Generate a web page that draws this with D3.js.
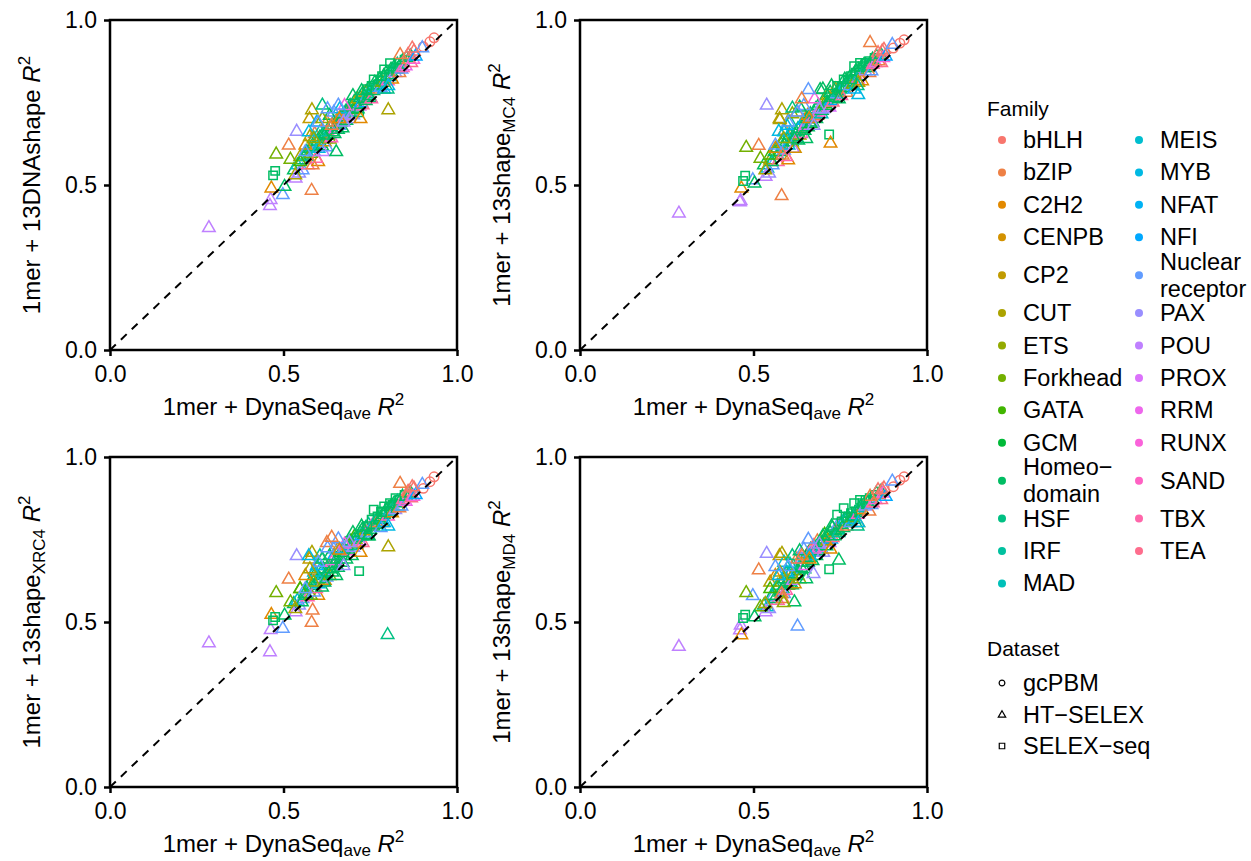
<!DOCTYPE html>
<html>
<head>
<meta charset="utf-8">
<script src="https://cdn.jsdelivr.net/npm/d3@7"></script>
<style>
  body { margin: 0; background: #fff; }
  svg { font-family: "Liberation Sans", Arial, sans-serif; }
</style>
</head>
<body>
<script>
// legend categories
let families = ['bHLH', 'bZIP', 'C2H2', 'CENPB', 'CP2', 'CUT', 'ETS', 'Forkhead', 'GATA', 'GCM',
                'Homeo\u2212\ndomain', 'HSF', 'IRF', 'MAD', 'MEIS', 'MYB', 'NFAT', 'NFI', 'Nuclear\nreceptor', 'PAX',
                'POU', 'PROX', 'RRM', 'RUNX', 'SAND', 'TBX', 'TEA'];
let datasets = ['gcPBM', 'HT\u2212SELEX', 'SELEX\u2212seq'];
let panelTitles = [['13DNAshape', ''], ['13shape', 'MC4'], ['13shape', 'XRC4'], ['13shape', 'MD4']];
let tickValues = [0, 0.5, 1];

// one entry per TF experiment (index into families / datasets)
let pointFamily = [
  10, 14, 19, 20, 18, 5, 25, 1, 2,
  10, 10, 11, 12, 10, 7, 10, 18, 10, 25,
  10, 15, 10, 14, 10, 20, 10, 3, 10, 18,
  11, 10, 6, 10, 24, 10, 16, 10, 22, 10,
  2, 10, 18, 10, 9, 10, 25, 10, 11, 10,
  1, 10, 23, 10, 13, 10, 19, 10, 8, 10,
  5, 10, 21, 10, 17, 10, 26, 10, 4, 10,
  18, 10, 12, 10, 25, 10, 10, 15, 10, 1,
  10, 11, 10, 18, 10, 7, 10, 16, 10, 10,
  24, 10, 13, 10, 2, 10, 10, 19, 10, 11,
  10, 1, 10, 18, 10, 25, 10, 22, 10, 0,
  1, 10, 26, 23, 0, 17,
  4, 16, 12, 1, 18, 10, 6, 14, 23, 10,
  15, 8, 2, 10, 19, 10, 10,
  20, 20, 20, 2, 18, 10, 10, 7, 1, 7,
  19, 1, 5, 11, 18, 18, 18, 5, 5, 1,
  0, 0, 0, 18, 0, 10, 11, 10, 2, 10,
  10, 1, 1, 15, 2, 10, 6, 19, 10, 10,
  15, 18, 10, 5
];
let pointDataset = [
  1, 1, 1, 1, 1, 1, 1, 1, 1,
  1, 1, 1, 1, 1, 1, 1, 1, 1, 1,
  1, 1, 1, 1, 1, 1, 1, 1, 1, 1,
  1, 1, 1, 1, 1, 1, 1, 1, 1, 1,
  1, 1, 1, 1, 1, 1, 1, 1, 1, 1,
  1, 1, 1, 1, 1, 1, 1, 1, 1, 1,
  1, 1, 1, 1, 1, 1, 1, 1, 1, 1,
  1, 1, 1, 1, 1, 2, 1, 1, 1, 1,
  2, 1, 1, 1, 2, 1, 1, 1, 2, 1,
  1, 2, 1, 1, 1, 2, 1, 1, 2, 1,
  1, 1, 2, 1, 1, 1, 2, 1, 1, 1,
  1, 1, 1, 1, 1, 1,
  1, 1, 1, 1, 1, 1, 1, 1, 1, 1,
  1, 1, 1, 1, 1, 2, 2,
  1, 1, 1, 1, 1, 2, 2, 1, 1, 1,
  1, 1, 1, 1, 1, 1, 1, 1, 1, 1,
  0, 0, 0, 1, 1, 2, 1, 2, 1, 1,
  1, 1, 1, 1, 1, 1, 1, 1, 2, 2,
  1, 1, 1, 1
];
// 1mer + DynaSeq_ave R^2 (shared x of all panels)
let dynaSeqR2 = [
  0.530, 0.540, 0.545, 0.535, 0.555, 0.548, 0.570, 0.590, 0.600,
  0.553, 0.561, 0.567, 0.569, 0.577, 0.579, 0.584, 0.588, 0.589, 0.594,
  0.597, 0.601, 0.605, 0.607, 0.611, 0.614, 0.615, 0.619, 0.622, 0.624,
  0.628, 0.629, 0.633, 0.637, 0.638, 0.641, 0.645, 0.647, 0.649, 0.653,
  0.656, 0.657, 0.661, 0.664, 0.665, 0.670, 0.673, 0.674, 0.679, 0.681,
  0.684, 0.687, 0.688, 0.692, 0.696, 0.697, 0.701, 0.704, 0.705, 0.710,
  0.713, 0.714, 0.719, 0.721, 0.724, 0.727, 0.728, 0.733, 0.736, 0.737,
  0.741, 0.744, 0.745, 0.750, 0.753, 0.754, 0.759, 0.762, 0.763, 0.768,
  0.771, 0.772, 0.777, 0.780, 0.781, 0.786, 0.789, 0.790, 0.795, 0.796,
  0.801, 0.804, 0.805, 0.810, 0.813, 0.814, 0.819, 0.822, 0.823, 0.828,
  0.829, 0.834, 0.835, 0.840, 0.843, 0.844, 0.849, 0.852, 0.854, 0.859,
  0.861, 0.867, 0.868, 0.874, 0.876, 0.881,
  0.575, 0.596, 0.605, 0.625, 0.645, 0.633, 0.612, 0.588, 0.676, 0.700,
  0.662, 0.548, 0.563, 0.725, 0.690, 0.760, 0.790,
  0.285, 0.461, 0.463, 0.465, 0.498, 0.470, 0.476, 0.479, 0.515, 0.520,
  0.538, 0.581, 0.582, 0.612, 0.627, 0.658, 0.600, 0.576, 0.802, 0.836,
  0.903, 0.922, 0.934, 0.900, 0.871, 0.807, 0.800, 0.718, 0.722, 0.746,
  0.618, 0.639, 0.584, 0.573, 0.661, 0.652, 0.587, 0.673, 0.741, 0.784,
  0.802, 0.563, 0.503, 0.534
];
// 1mer + 13DNAshape R^2
let dnaShapeR2 = [
  0.545, 0.560, 0.535, 0.520, 0.545, 0.585, 0.560, 0.655, 0.570,
  0.575, 0.590, 0.600, 0.585, 0.610, 0.595, 0.620, 0.600, 0.615, 0.580,
  0.632, 0.610, 0.645, 0.625, 0.618, 0.600, 0.655, 0.630, 0.640, 0.615,
  0.668, 0.650, 0.638, 0.675, 0.642, 0.660, 0.690, 0.655, 0.670, 0.682,
  0.700, 0.668, 0.680, 0.705, 0.690, 0.672, 0.700, 0.715, 0.722, 0.695,
  0.718, 0.730, 0.710, 0.740, 0.720, 0.735, 0.712, 0.752, 0.728, 0.745,
  0.760, 0.730, 0.738, 0.765, 0.748, 0.775, 0.742, 0.760, 0.780, 0.755,
  0.770, 0.790, 0.775, 0.765, 0.760, 0.800, 0.785, 0.795, 0.810, 0.790,
  0.805, 0.800, 0.820, 0.795, 0.815, 0.810, 0.830, 0.790, 0.825, 0.840,
  0.815, 0.835, 0.828, 0.850, 0.820, 0.845, 0.858, 0.840, 0.855, 0.865,
  0.850, 0.840, 0.870, 0.850, 0.875, 0.855, 0.880, 0.860, 0.885, 0.895,
  0.880, 0.890, 0.870, 0.880, 0.905, 0.890,
  0.700, 0.690, 0.660, 0.690, 0.720, 0.710, 0.700, 0.640, 0.740, 0.770,
  0.730, 0.570, 0.620, 0.785, 0.700, 0.820, 0.850,
  0.370, 0.437, 0.455, 0.490, 0.470, 0.529, 0.543, 0.593, 0.620, 0.577,
  0.662, 0.483, 0.727, 0.741, 0.730, 0.741, 0.688, 0.646, 0.727, 0.894,
  0.919, 0.934, 0.946, 0.915, 0.914, 0.869, 0.790, 0.720, 0.700, 0.770,
  0.650, 0.680, 0.560, 0.660, 0.700, 0.600, 0.640, 0.690, 0.790, 0.830,
  0.800, 0.600, 0.495, 0.530
];
// 1mer + 13shape_MC4 R^2
let mc4R2 = [
  0.560, 0.550, 0.535, 0.525, 0.560, 0.575, 0.570, 0.665, 0.575,
  0.570, 0.600, 0.612, 0.590, 0.600, 0.625, 0.630, 0.605, 0.620, 0.585,
  0.640, 0.620, 0.650, 0.660, 0.630, 0.610, 0.645, 0.610, 0.660, 0.640,
  0.670, 0.635, 0.650, 0.680, 0.655, 0.670, 0.695, 0.665, 0.680, 0.700,
  0.710, 0.675, 0.690, 0.715, 0.685, 0.690, 0.705, 0.720, 0.730, 0.700,
  0.710, 0.740, 0.720, 0.788, 0.715, 0.725, 0.730, 0.760, 0.745, 0.740,
  0.770, 0.750, 0.735, 0.780, 0.755, 0.765, 0.750, 0.770, 0.790, 0.765,
  0.775, 0.785, 0.780, 0.790, 0.770, 0.800, 0.795, 0.800, 0.820, 0.780,
  0.815, 0.810, 0.825, 0.800, 0.830, 0.805, 0.835, 0.790, 0.840, 0.845,
  0.820, 0.850, 0.830, 0.855, 0.815, 0.860, 0.865, 0.845, 0.870, 0.860,
  0.855, 0.840, 0.875, 0.845, 0.880, 0.865, 0.885, 0.870, 0.890, 0.900,
  0.875, 0.895, 0.870, 0.885, 0.910, 0.890,
  0.700, 0.680, 0.690, 0.720, 0.740, 0.735, 0.715, 0.660, 0.760, 0.790,
  0.700, 0.590, 0.610, 0.800, 0.730, 0.820, 0.860,
  0.414, 0.448, 0.452, 0.490, 0.515, 0.512, 0.528, 0.613, 0.619, 0.580,
  0.741, 0.467, 0.727, 0.732, 0.720, 0.788, 0.690, 0.697, 0.810, 0.931,
  0.915, 0.930, 0.940, 0.925, 0.905, 0.870, 0.800, 0.653, 0.626, 0.760,
  0.640, 0.760, 0.590, 0.662, 0.700, 0.640, 0.640, 0.680, 0.800, 0.820,
  0.773, 0.620, 0.505, 0.545
];
// 1mer + 13shape_XRC4 R^2
let xrc4R2 = [
  0.555, 0.565, 0.550, 0.530, 0.570, 0.600, 0.575, 0.655, 0.580,
  0.560, 0.585, 0.580, 0.600, 0.620, 0.580, 0.610, 0.590, 0.640, 0.600,
  0.625, 0.615, 0.630, 0.660, 0.605, 0.620, 0.660, 0.625, 0.645, 0.635,
  0.650, 0.670, 0.640, 0.660, 0.680, 0.650, 0.700, 0.675, 0.685, 0.690,
  0.720, 0.665, 0.700, 0.690, 0.710, 0.680, 0.720, 0.700, 0.735, 0.690,
  0.730, 0.720, 0.715, 0.745, 0.730, 0.700, 0.725, 0.750, 0.760, 0.735,
  0.740, 0.755, 0.745, 0.770, 0.760, 0.780, 0.740, 0.765, 0.775, 0.785,
  0.770, 0.760, 0.795, 0.780, 0.790, 0.810, 0.790, 0.800, 0.795, 0.800,
  0.820, 0.815, 0.810, 0.785, 0.835, 0.800, 0.825, 0.800, 0.830, 0.840,
  0.820, 0.845, 0.835, 0.850, 0.830, 0.855, 0.860, 0.840, 0.875, 0.865,
  0.850, 0.845, 0.870, 0.850, 0.880, 0.870, 0.885, 0.865, 0.880, 0.895,
  0.890, 0.890, 0.875, 0.880, 0.905, 0.885,
  0.690, 0.670, 0.700, 0.740, 0.720, 0.700, 0.690, 0.650, 0.735, 0.770,
  0.720, 0.600, 0.640, 0.790, 0.740, 0.840, 0.850,
  0.436, 0.409, 0.476, 0.522, 0.480, 0.505, 0.515, 0.588, 0.629, 0.560,
  0.700, 0.498, 0.710, 0.690, 0.724, 0.751, 0.680, 0.660, 0.727, 0.919,
  0.905, 0.925, 0.940, 0.916, 0.909, 0.860, 0.461, 0.654, 0.710, 0.760,
  0.620, 0.756, 0.535, 0.700, 0.717, 0.640, 0.620, 0.670, 0.790, 0.833,
  0.790, 0.600, 0.520, 0.540
];
// 1mer + 13shape_MD4 R^2
let md4R2 = [
  0.550, 0.545, 0.540, 0.530, 0.575, 0.620, 0.565, 0.640, 0.610,
  0.580, 0.570, 0.600, 0.610, 0.590, 0.620, 0.600, 0.585, 0.630, 0.595,
  0.620, 0.640, 0.615, 0.650, 0.612, 0.625, 0.670, 0.615, 0.645, 0.660,
  0.640, 0.655, 0.630, 0.665, 0.690, 0.680, 0.690, 0.660, 0.670, 0.700,
  0.705, 0.680, 0.710, 0.695, 0.720, 0.685, 0.730, 0.710, 0.725, 0.700,
  0.745, 0.715, 0.725, 0.735, 0.720, 0.740, 0.710, 0.750, 0.765, 0.730,
  0.745, 0.760, 0.740, 0.770, 0.750, 0.785, 0.755, 0.760, 0.770, 0.775,
  0.790, 0.780, 0.770, 0.795, 0.800, 0.805, 0.785, 0.810, 0.800, 0.790,
  0.815, 0.820, 0.805, 0.800, 0.830, 0.815, 0.820, 0.810, 0.835, 0.830,
  0.825, 0.840, 0.845, 0.850, 0.840, 0.860, 0.855, 0.850, 0.870, 0.865,
  0.860, 0.835, 0.875, 0.855, 0.870, 0.860, 0.885, 0.870, 0.890, 0.900,
  0.885, 0.895, 0.870, 0.890, 0.905, 0.880,
  0.700, 0.650, 0.675, 0.690, 0.720, 0.715, 0.640, 0.680, 0.720, 0.760,
  0.700, 0.600, 0.640, 0.790, 0.735, 0.845, 0.860,
  0.425, 0.475, 0.490, 0.460, 0.579, 0.512, 0.522, 0.588, 0.657, 0.545,
  0.707, 0.585, 0.707, 0.700, 0.487, 0.750, 0.667, 0.650, 0.800, 0.880,
  0.910, 0.930, 0.940, 0.926, 0.900, 0.870, 0.790, 0.660, 0.720, 0.687,
  0.560, 0.700, 0.570, 0.640, 0.690, 0.630, 0.558, 0.646, 0.825, 0.820,
  0.800, 0.667, 0.515, 0.555
];
let panelValues = [dnaShapeR2, mc4R2, xrc4R2, md4R2];

// ggplot-like hue palette (polar LUV)
function hueColor(h, c, l) {
  let hr = h * Math.PI / 180;
  let U = c * Math.cos(hr), V = c * Math.sin(hr);
  let Xn = 95.047, Yn = 100, Zn = 108.883;
  let Y = l > 8 ? Yn * Math.pow((l + 16) / 116, 3) : Yn * l / 903.3;
  let t = Xn + 15 * Yn + 3 * Zn;
  let up = U / (13 * l) + 4 * Xn / t, vp = V / (13 * l) + 9 * Yn / t;
  let X = 9 * Y * up / (4 * vp);
  let Z = -X / 3 - 5 * Y + 3 * Y / vp;
  let lin = [
    3.240479 * X - 1.537150 * Y - 0.498535 * Z,
    -0.969256 * X + 1.875992 * Y + 0.041556 * Z,
    0.055648 * X - 0.204043 * Y + 1.057311 * Z
  ].map(v => {
    v = v / 100;
    v = v <= 0.0031308 ? 12.92 * v : 1.055 * Math.pow(v, 1 / 2.4) - 0.055;
    return Math.round(255 * Math.max(0, Math.min(1, v)));
  });
  return d3.rgb(lin[0], lin[1], lin[2]).formatHex();
}
let color = d3.scaleOrdinal()
              .domain(d3.range(families.length))
              .range(d3.range(families.length).map(i => hueColor(15 + i * 360 / families.length, 100, 65)));

let shapes = [d3.symbolCircle, d3.symbolTriangle, d3.symbolSquare];
let markSize = [70, 68, 70];

let svg = d3.select('body').append('svg').attr('width', 1251).attr('height', 861);

let pw = 347, ph = 330;
let panelPos = [[110, 20], [580, 20], [110, 457], [580, 457]];

panelPos.forEach((pos, k) => {
  let g = svg.append('g').attr('transform', `translate(${pos[0]}, ${pos[1]})`);
  let xScale = d3.scaleLinear().domain([0, 1]).range([0, pw]);
  let yScale = d3.scaleLinear().domain([0, 1]).range([ph, 0]);
  let vals = panelValues[k];

  // points
  g.selectAll('path.pt')
   .data(d3.range(dynaSeqR2.length))
   .enter()
   .append('path')
   .attr('class', 'pt')
   .attr('d', i => d3.symbol(shapes[pointDataset[i]], markSize[pointDataset[i]])())
   .attr('transform', i => `translate(${xScale(dynaSeqR2[i])}, ${yScale(vals[i])})`)
   .style('fill', 'none')
   .style('stroke', i => color(pointFamily[i]))
   .style('stroke-width', 1.5);

  // identity line
  g.append('line')
   .attr('x1', xScale(0)).attr('y1', yScale(0))
   .attr('x2', xScale(1)).attr('y2', yScale(1))
   .style('stroke', '#000')
   .style('stroke-width', 2)
   .style('stroke-dasharray', '8,7');

  // axes
  let ya = g.append('g')
            .call(d3.axisLeft(yScale).tickValues(tickValues).tickFormat(d3.format('.1f')).tickSize(6).tickPadding(7));
  let xa = g.append('g')
            .attr('transform', `translate(0, ${ph})`)
            .call(d3.axisBottom(xScale).tickValues(tickValues).tickFormat(d3.format('.1f')).tickSize(6).tickPadding(10));
  [ya, xa].forEach(a => {
    a.select('.domain').remove();
    a.selectAll('line').style('stroke', '#000').style('stroke-width', 2.5);
    a.selectAll('text').style('font-size', '23px').style('fill', '#000')
     .style('font-family', '"Liberation Sans", Arial, sans-serif');
  });

  // panel border
  g.append('rect')
   .attr('width', pw).attr('height', ph)
   .style('fill', 'none')
   .style('stroke', '#000')
   .style('stroke-width', 2.5);

  // x title
  let xt = g.append('text')
            .attr('transform', `translate(${pw / 2}, ${ph + 65})`)
            .attr('text-anchor', 'middle')
            .style('font-size', '24px');
  xt.append('tspan').text('1mer + DynaSeq');
  xt.append('tspan').text('ave').attr('dy', 4).style('font-size', '17px');
  xt.append('tspan').text('\u00a0').attr('dy', -4);
  xt.append('tspan').text('R').style('font-style', 'italic');
  xt.append('tspan').text('2').attr('dy', -10).style('font-size', '17px');

  // y title
  let yt = g.append('text')
            .attr('transform', `translate(-70, ${ph / 2}) rotate(-90)`)
            .attr('text-anchor', 'middle')
            .style('font-size', '24px');
  yt.append('tspan').text('1mer + ' + panelTitles[k][0]);
  if (panelTitles[k][1]) {
    yt.append('tspan').text(panelTitles[k][1]).attr('dy', 5).style('font-size', '17px');
    yt.append('tspan').text('\u00a0').attr('dy', -5);
  } else {
    yt.append('tspan').text('\u00a0');
  }
  yt.append('tspan').text('R').style('font-style', 'italic');
  yt.append('tspan').text('2').attr('dy', -10).style('font-size', '17px');
});

// Family legend
let legend = svg.append('g');
legend.append('text').attr('x', 987).attr('y', 108).attr('dominant-baseline', 'central')
      .style('font-size', '21px').text('Family');

let nRows = Math.ceil(families.length / 2);
let rowY = [];
let yCur = 140;
for (let r = 0; r < nRows; r++) {
  let a = families[r], b = families[r + nRows];
  let lines = Math.max(a.split('\n').length, b ? b.split('\n').length : 1);
  let hgt = lines > 1 ? 43.5 : 32.4;
  if (r === 0) { rowY.push(yCur); yCur += hgt / 2; continue; }
  yCur += hgt / 2;
  rowY.push(yCur);
  yCur += hgt / 2;
}
families.forEach((f, i) => {
  let col = Math.floor(i / nRows), row = i % nRows;
  let cx = col === 0 ? 1002 : 1139;
  let cy = rowY[row];
  legend.append('circle').attr('cx', cx).attr('cy', cy).attr('r', 4).style('fill', color(i));
  let lines = f.split('\n');
  let t = legend.append('text').attr('x', cx + 21).attr('y', cy).style('font-size', '23.5px');
  lines.forEach((ln, j) => {
    t.append('tspan').attr('x', cx + 21)
     .attr('y', cy + (j - (lines.length - 1) / 2) * 27)
     .attr('dominant-baseline', 'central')
     .text(ln);
  });
});

// Dataset legend
legend.append('text').attr('x', 987).attr('y', 648).attr('dominant-baseline', 'central')
      .style('font-size', '21px').text('Dataset');
let dsY = [683, 715, 746];
let dsSize = [26, 24, 30];
datasets.forEach((d, i) => {
  legend.append('path')
        .attr('d', d3.symbol(shapes[i], dsSize[i])())
        .attr('transform', `translate(1002, ${dsY[i]})`)
        .style('fill', 'none').style('stroke', '#000').style('stroke-width', 1.2);
  legend.append('text').attr('x', 1023).attr('y', dsY[i]).attr('dominant-baseline', 'central')
        .style('font-size', '23.5px').text(d);
});
</script>
</body>
</html>
